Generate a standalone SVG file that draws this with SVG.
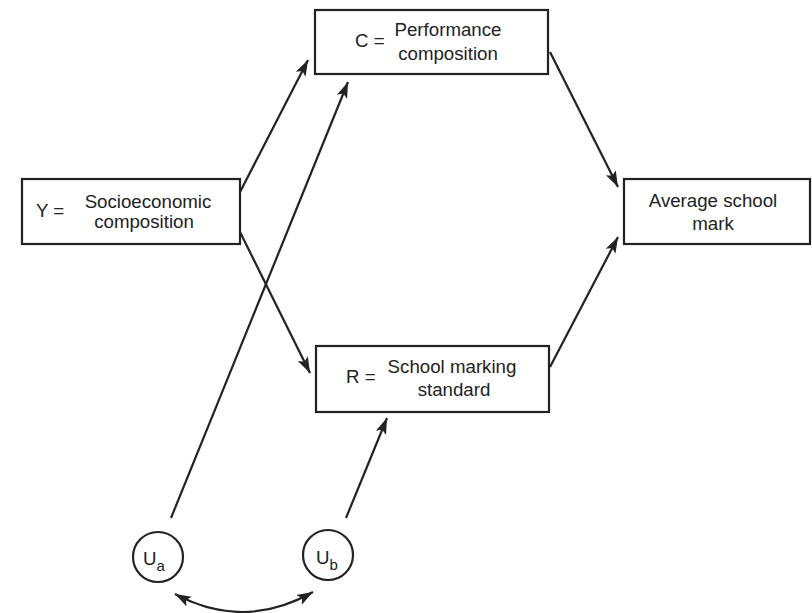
<svg xmlns="http://www.w3.org/2000/svg" width="812" height="613" viewBox="0 0 812 613">
  <style>
    .box { fill: #fff; stroke: #222; stroke-width: 2.2; }
    .circ { fill: #fff; stroke: #222; stroke-width: 2.2; }
    .lbl { font-family: "Liberation Sans", Arial, sans-serif; font-size: 18.7px; fill: #222; }
    .mid { text-anchor: middle; }
    .sub { font-size: 15px; }
    .edge { fill: none; stroke: #222; stroke-width: 2.2; }
  </style>
  <defs>
    <marker id="arrow" markerUnits="userSpaceOnUse" markerWidth="17" markerHeight="12" refX="16" refY="5.5" orient="auto-start-reverse" viewBox="0 0 17 11">
      <path d="M0,0 L16,5.5 L0,11 L3.5,5.5 z" fill="#222"/>
    </marker>
  </defs>

  <rect width="812" height="613" fill="#fff"/>

  <g id="connectors">
    <line class="edge" x1="239" y1="194" x2="308" y2="60" marker-end="url(#arrow)"/>
    <line class="edge" x1="240" y1="232" x2="310" y2="373" marker-end="url(#arrow)"/>
    <line class="edge" x1="171" y1="518" x2="348" y2="82" marker-end="url(#arrow)"/>
    <line class="edge" x1="346" y1="518" x2="387" y2="418" marker-end="url(#arrow)"/>
    <line class="edge" x1="550" y1="52" x2="618" y2="187" marker-end="url(#arrow)"/>
    <line class="edge" x1="550" y1="367" x2="618" y2="237" marker-end="url(#arrow)"/>
    <path class="edge" d="M175,594 Q244,631 313,592" marker-start="url(#arrow)" marker-end="url(#arrow)"/>
  </g>

  <g id="node-Y">
    <rect class="box" x="22" y="179" width="218" height="65"/>
    <text class="lbl" x="36" y="217">Y =</text>
    <text class="lbl mid" x="148" y="208">Socioeconomic</text>
    <text class="lbl mid" x="144" y="228">composition</text>
  </g>

  <g id="node-C">
    <rect class="box" x="315" y="10" width="233" height="64"/>
    <text class="lbl" x="355" y="47">C =</text>
    <text class="lbl mid" x="448" y="36">Performance</text>
    <text class="lbl mid" x="448" y="60">composition</text>
  </g>

  <g id="node-mark">
    <rect class="box" x="624" y="179" width="186" height="65"/>
    <text class="lbl mid" x="713" y="207">Average school</text>
    <text class="lbl mid" x="713" y="230">mark</text>
  </g>

  <g id="node-R">
    <rect class="box" x="316" y="346" width="233" height="66"/>
    <text class="lbl" x="346" y="383">R =</text>
    <text class="lbl mid" x="452" y="373">School marking</text>
    <text class="lbl mid" x="454" y="396">standard</text>
  </g>

  <g id="node-Ua">
    <circle class="circ" cx="158" cy="557" r="25"/>
    <text class="lbl" x="143" y="565">U<tspan class="sub" dy="6">a</tspan></text>
  </g>

  <g id="node-Ub">
    <circle class="circ" cx="328" cy="555" r="25"/>
    <text class="lbl" x="316" y="564">U<tspan class="sub" dy="6">b</tspan></text>
  </g>
</svg>
